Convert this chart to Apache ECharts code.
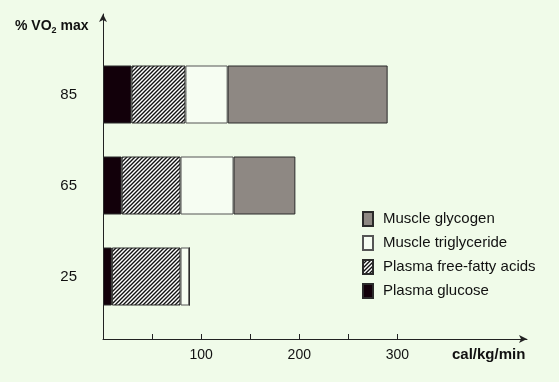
<!DOCTYPE html>
<html><head><meta charset="utf-8">
<script src="https://cdn.jsdelivr.net/npm/echarts@6/dist/echarts.min.js"></script>
<style>html,body{margin:0;padding:0;background:#f0fbe9;}#c{width:559px;height:382px;}</style>
</head><body><div id="c"></div>
<script>
const categories = ['25', '65', '85'];
const plasmaGlucose = [9, 19, 29];
const plasmaFFA = [70, 60, 55];
const muscleTG = [9, 54, 43];
const muscleGlycogen = [0, 63, 163];
const xTicks = [50, 100, 150, 200, 250, 300];
const xLabels = [100, 200, 300];

function hatch() {
  const c = document.createElement('canvas');
  c.width = 4; c.height = 4;
  const g = c.getContext('2d');
  g.fillStyle = '#ffffff'; g.fillRect(0, 0, 4, 4);
  g.strokeStyle = '#111111'; g.lineWidth = 1.4;
  g.beginPath();
  g.moveTo(-1, 5); g.lineTo(5, -1);
  g.moveTo(-1, 1); g.lineTo(1, -1);
  g.moveTo(3, 5); g.lineTo(5, 3);
  g.stroke();
  return c;
}
const FONT = 'Liberation Sans';
const chart = echarts.init(document.getElementById('c'), null, {renderer: 'canvas'});
const mk = (name, data, color, bc) => ({
  name, type: 'bar', stack: 'total', data, barWidth: 58,
  xAxisIndex: 0, yAxisIndex: 0,
  itemStyle: {color, borderColor: bc || '#2a2a2a', borderWidth: 1},
  emphasis: {disabled: true}
});
chart.setOption({
  backgroundColor: '#f0fbe9',
  animation: false,
  textStyle: {fontFamily: FONT},
  title: [
    {text: '{a|% VO}{s|2}{a| max}', left: 15, top: 18, padding: 0,
     textStyle: {rich: {a: {fontSize: 14, fontWeight: 'bold', fontFamily: FONT, color: '#111'},
                        s: {fontSize: 9, fontWeight: 'bold', fontFamily: FONT, color: '#111', verticalAlign: 'bottom', padding: [8, 0, 0, 0]}}}},
    {text: 'cal/kg/min', left: 452, top: 347, padding: 0,
     textStyle: {fontSize: 15, fontWeight: 'bold', fontFamily: FONT, color: '#111'}}
  ],
  legend: {
    left: 357, top: 206, orient: 'vertical', icon: 'rect',
    itemWidth: 10, itemHeight: 14, itemGap: 8,
    textStyle: {fontSize: 15, color: '#111', fontFamily: FONT, padding: [0, 0, 0, 5]},
    data: ['Muscle glycogen', 'Muscle triglyceride', 'Plasma free-fatty acids', 'Plasma glucose'],
    selectedMode: false
  },
  grid: [
    {left: 103, right: 32, top: 49, bottom: 60},
    {left: 103, right: 32, top: 14, bottom: 43}
  ],
  xAxis: [
    {gridIndex: 0, type: 'value', min: 0, max: 432, show: false},
    {gridIndex: 1, type: 'value', min: 0, max: 432,
     axisLine: {show: true, symbol: ['none', 'arrow'], symbolSize: [6, 8], lineStyle: {color: '#222', width: 1}},
     axisTick: {show: true, inside: true, length: 5, customValues: xTicks, lineStyle: {color: '#222'}},
     axisLabel: {customValues: xLabels, fontSize: 14, color: '#111', margin: 9, fontFamily: FONT},
     splitLine: {show: false}}
  ],
  yAxis: [
    {gridIndex: 0, type: 'category', data: categories,
     axisLine: {show: false}, axisTick: {show: false},
     axisLabel: {fontSize: 15, color: '#111', margin: 26, fontFamily: FONT}},
    {gridIndex: 1, type: 'value', min: 0, max: 1,
     axisLine: {show: true, symbol: ['none', 'arrow'], symbolSize: [6, 8], lineStyle: {color: '#222', width: 1}},
     axisTick: {show: false}, axisLabel: {show: false}, splitLine: {show: false}}
  ],
  series: [
    mk('Plasma glucose', plasmaGlucose, '#12000a'),
    mk('Plasma free-fatty acids', plasmaFFA, {image: hatch(), repeat: 'repeat'}),
    mk('Muscle triglyceride', muscleTG, '#f6fdf2', '#555'),
    mk('Muscle glycogen', muscleGlycogen, '#8e8883')
  ]
});
</script></body></html>
